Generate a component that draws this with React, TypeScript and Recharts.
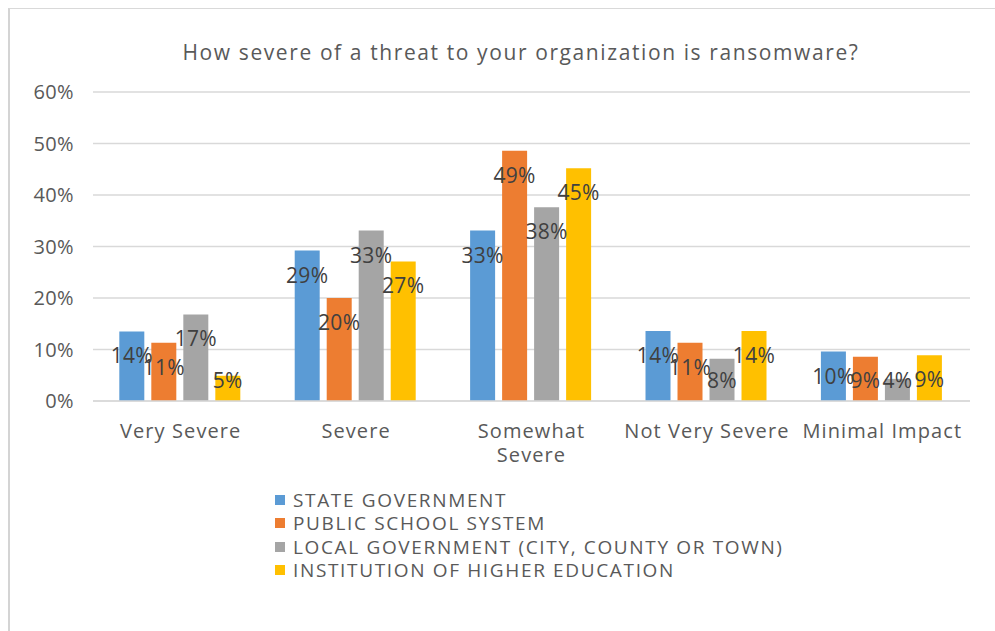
import React from 'react';
import { BarChart, Bar, XAxis, YAxis, CartesianGrid } from 'recharts';

const categories = ['Very Severe', 'Severe', 'Somewhat Severe', 'Not Very Severe', 'Minimal Impact'];
const categoryLines = [['Very Severe'], ['Severe'], ['Somewhat', 'Severe'], ['Not Very Severe'], ['Minimal Impact']];

const stateGov = [13.5, 29.2, 33.1, 13.6, 9.6];
const publicSchool = [11.3, 20.0, 48.6, 11.3, 8.6];
const localGov = [16.8, 33.1, 37.6, 8.2, 4.3];
const higherEd = [4.9, 27.1, 45.2, 13.6, 8.9];

const yTicks = [0, 10, 20, 30, 40, 50, 60];

const seriesList = [
  { key: 'state', name: 'STATE GOVERNMENT', color: '#5B9BD5', values: stateGov },
  { key: 'school', name: 'PUBLIC SCHOOL SYSTEM', color: '#ED7D31', values: publicSchool },
  { key: 'local', name: 'LOCAL GOVERNMENT (CITY, COUNTY OR TOWN)', color: '#A5A5A5', values: localGov },
  { key: 'higher', name: 'INSTITUTION OF HIGHER EDUCATION', color: '#FFC000', values: higherEd },
];

const data = categories.map((c, i) => {
  const row: { [k: string]: any } = { category: c, idx: i };
  seriesList.forEach(s => { row[s.key] = s.values[i]; });
  return row;
});

const FONT = '"Open Sans", "Noto Sans", sans-serif';

function ValueLabel(props: any) {
  const { x, y, width, height, value } = props;
  const base = y + height;
  const ly = Math.min(y + 24, base - 21);
  return (
    <text
      x={x + width / 2}
      y={ly}
      textAnchor="middle"
      dominantBaseline="central"
      fontFamily={FONT}
      fontSize={21}
      letterSpacing={0.3}
      fill="#404040"
    >
      {Math.round(value) + '%'}
    </text>
  );
}

function CategoryTick(props: any) {
  const { x, y, payload } = props;
  const lines = categoryLines[payload.index] || [payload.value];
  return (
    <g>
      {lines.map((l, i) => (
        <text
          key={i}
          x={x}
          y={y + 21 + i * 24}
          textAnchor="middle"
          dominantBaseline="central"
          fontFamily={FONT}
          fontSize={20}
          letterSpacing={1.1}
          fill="#595959"
        >
          {l}
        </text>
      ))}
    </g>
  );
}

export default function App() {
  return (
    <div style={{ position: 'absolute', left: 0, top: 0, width: 995, height: 631, background: '#fff', overflow: 'hidden' }}>
      <div
        style={{
          position: 'absolute',
          left: 8,
          top: 8,
          width: 1100,
          height: 700,
          borderLeft: '2px solid #d4d4d4',
          borderTop: '1px solid #d9d9d9',
        }}
      />
      <div
        style={{
          position: 'absolute',
          left: 0,
          width: 1042,
          top: 38,
          textAlign: 'center',
          fontFamily: FONT,
          fontSize: 21,
          letterSpacing: 1.6,
          color: '#595959',
        }}
      >
        How severe of a threat to your organization is ransomware?
      </div>
      <div style={{ position: 'absolute', left: 0, top: 0 }}>
        <BarChart
          width={995}
          height={631}
          data={data}
          margin={{ top: 92, right: 25, left: 13, bottom: 200 }}
          barCategoryGap="15%"
          barGap={7}
        >
          <CartesianGrid vertical={false} stroke="#D9D9D9" strokeWidth={1.5} />
          <XAxis
            dataKey="category"
            height={30}
            tickLine={false}
            axisLine={{ stroke: '#D9D9D9', strokeWidth: 1.5 }}
            tick={<CategoryTick />}
            interval={0}
          />
          <YAxis
            width={80}
            domain={[0, 60]}
            ticks={yTicks}
            tickFormatter={(v: number) => v + '%'}
            axisLine={false}
            tickLine={false}
            tickMargin={13}
            tick={{ fontFamily: FONT, fontSize: 20, fill: '#595959', letterSpacing: 0.4 }}
          />
          {seriesList.map(s => (
            <Bar
              key={s.key}
              dataKey={s.key}
              name={s.name}
              fill={s.color}
              isAnimationActive={false}
              label={<ValueLabel />}
            />
          ))}
        </BarChart>
      </div>
      <div style={{ position: 'absolute', left: 275, top: 488, fontFamily: FONT, fontSize: 19, letterSpacing: 1.65, color: '#595959' }}>
        {seriesList.map(s => (
          <div key={s.key} style={{ display: 'flex', alignItems: 'center', height: 23.5 }}>
            <span style={{ display: 'inline-block', width: 10, height: 10, background: s.color, marginRight: 8 }} />
            <span style={{ whiteSpace: 'nowrap' }}>{s.name}</span>
          </div>
        ))}
      </div>
    </div>
  );
}
